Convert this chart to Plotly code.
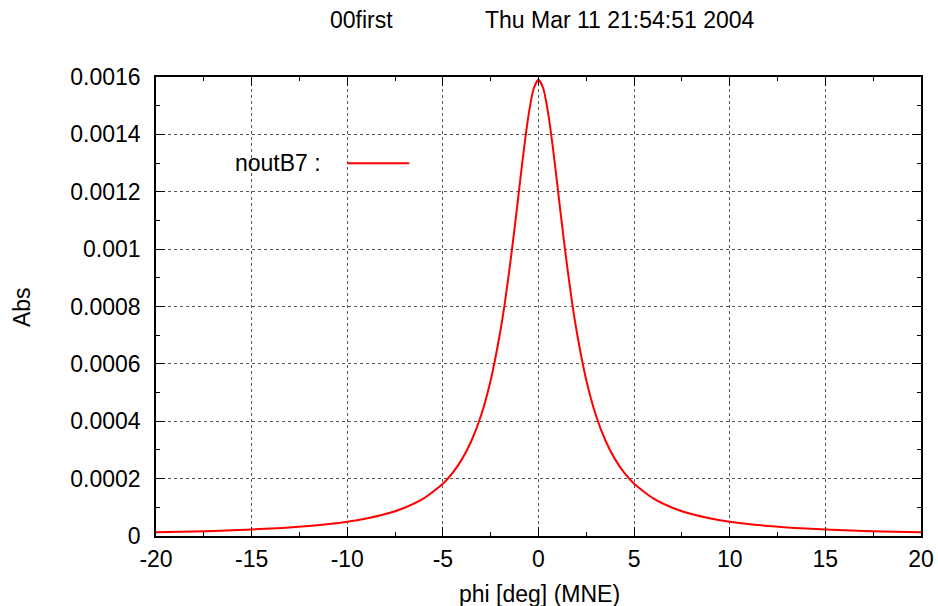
import plotly.graph_objects as go

# Data
phi_deg = [-20, -18, -16, -14, -12, -10, -9, -8, -7, -6, -5, -4.5, -4, -3.5, -3, -2.5, -2,
           -1.75, -1.5, -1.25, -1, -0.75, -0.5, -0.25, 0,
           0.25, 0.5, 0.75, 1, 1.25, 1.5, 1.75, 2, 2.5, 3, 3.5, 4, 4.5, 5,
           6, 7, 8, 9, 10, 12, 14, 16, 18, 20]
abs_vals = [0.0000128, 0.0000157, 0.0000199, 0.0000259, 0.0000350, 0.0000499, 0.0000612,
            0.0000766, 0.0000986, 0.000131, 0.000182, 0.000219, 0.000268, 0.000333,
            0.000421, 0.000543, 0.000712, 0.000817, 0.000939, 0.001073, 0.001215,
            0.001355, 0.001476, 0.00156, 0.00159,
            0.00156, 0.001476, 0.001355, 0.001215, 0.001073, 0.000939, 0.000817,
            0.000712, 0.000543, 0.000421, 0.000333, 0.000268, 0.000219, 0.000182,
            0.000131, 0.0000986, 0.0000766, 0.0000612, 0.0000499, 0.0000350,
            0.0000259, 0.0000199, 0.0000157, 0.0000128]

x_ticks = [-20, -15, -10, -5, 0, 5, 10, 15, 20]
x_ticklabels = ["-20", "-15", "-10", "-5", "0", "5", "10", "15", "20"]
y_ticks = [0, 0.0002, 0.0004, 0.0006, 0.0008, 0.001, 0.0012, 0.0014, 0.0016]
y_ticklabels = ["0", "0.0002", "0.0004", "0.0006", "0.0008", "0.001", "0.0012", "0.0014", "0.0016"]

series_name = "noutB7"
title_left = "00first"
title_right = "Thu Mar 11 21:54:51 2004"
x_title = "phi [deg] (MNE)"
y_title = "Abs"

FONT = "Liberation Sans, Arial, Helvetica, sans-serif"
FS = 23

fig = go.Figure()
fig.add_trace(go.Scatter(x=phi_deg, y=abs_vals, mode="lines", name=series_name,
                         line=dict(color="#ff0000", width=2, shape="spline", smoothing=0.6),
                         showlegend=False))

axis_common = dict(
    showline=True, linecolor="black", linewidth=1.5, mirror="ticks",
    ticks="inside", ticklen=9, tickwidth=1.2, tickcolor="black",
    showgrid=True, gridcolor="rgba(0,0,0,0.65)", gridwidth=1, griddash="dot",
    zeroline=False, automargin=False,
    tickfont=dict(family=FONT, size=FS, color="black"),
)

fig.update_xaxes(range=[-20, 20], tickvals=x_ticks, ticktext=x_ticklabels,
                 ticklabelstandoff=2,
                 minor=dict(dtick=2.5, ticks="inside", ticklen=4.5, tickcolor="black",
                            tickwidth=1.2, showgrid=False),
                 **axis_common)
fig.update_yaxes(range=[0, 0.0016], tickvals=y_ticks, ticktext=y_ticklabels,
                 ticklabelstandoff=9,
                 minor=dict(dtick=0.0001, ticks="inside", ticklen=4.5, tickcolor="black",
                            tickwidth=1.2, showgrid=False),
                 **axis_common)

fig.update_layout(
    width=938, height=606,
    margin=dict(l=156, r=17, t=77, b=70, autoexpand=False),
    paper_bgcolor="white", plot_bgcolor="white",
    font=dict(family=FONT, size=FS, color="black"),
    showlegend=False,
)

# Titles
fig.add_annotation(text=title_left, xref="paper", yref="paper", x=0.268, y=1.124,
                   xanchor="center", yanchor="middle", showarrow=False,
                   font=dict(family=FONT, size=FS, color="black"))
fig.add_annotation(text=title_right, xref="paper", yref="paper", x=0.6065, y=1.124,
                   xanchor="center", yanchor="middle", showarrow=False,
                   font=dict(family=FONT, size=FS, color="black"))
fig.add_annotation(text=x_title, xref="paper", yref="paper", x=0.5007, y=-0.1264,
                   xanchor="center", yanchor="middle", showarrow=False,
                   font=dict(family=FONT, size=FS, color="black"))
fig.add_annotation(text=y_title, xref="paper", yref="paper", x=-0.175, y=0.499,
                   xanchor="center", yanchor="middle", showarrow=False, textangle=-90,
                   font=dict(family=FONT, size=FS, color="black"))

# Key (gnuplot style: text then line sample)
fig.add_annotation(text=series_name + " :", xref="paper", yref="paper", x=0.2183, y=0.812,
                   xanchor="right", yanchor="middle", showarrow=False,
                   font=dict(family=FONT, size=FS, color="black"))
fig.add_shape(type="line", xref="paper", yref="paper", x0=0.2501, x1=0.3311, y0=0.812, y1=0.812,
              line=dict(color="#ff0000", width=2))

fig.write_html("out.html",
               config={"displayModeBar": False},
               post_script="document.body.style.margin='0';document.body.style.overflow='hidden';")
